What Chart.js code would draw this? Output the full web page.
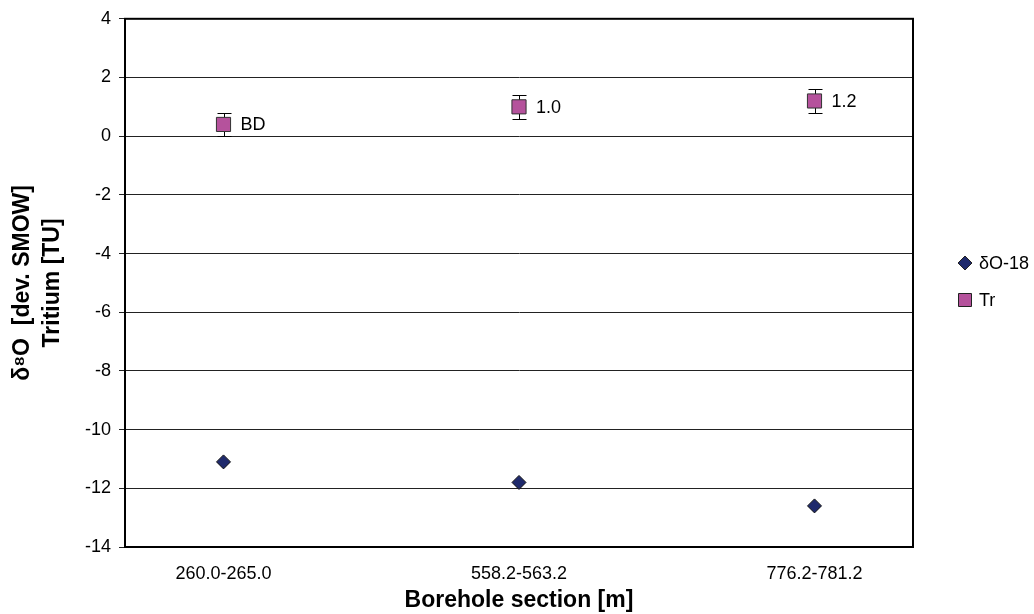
<!DOCTYPE html>
<html>
<head>
<meta charset="utf-8">
<script src="https://cdn.jsdelivr.net/npm/chart.js@4.4.1/dist/chart.umd.min.js"></script>
<style>
  html, body { margin: 0; padding: 0; background: #fff; }
</style>
</head>
<body>
<canvas id="myChart" width="1034" height="614"></canvas>
<script>
// borehole sections (x categories)
const sections = ['260.0-265.0', '558.2-563.2', '776.2-781.2'];
// delta O-18 values [dev. SMOW]
const delta18O = [-11.1, -11.8, -12.6];
// tritium [TU], error and labels shown next to the points
const tritium = [0.4, 1.0, 1.2];
const tritiumErr = [0.4, 0.4, 0.4];
const tritiumLabels = ['BD', '1.0', '1.2'];

const navy = '#1F2A6C';
const pink = '#B5529C';

Chart.defaults.font.family = "'Liberation Sans', Arial, sans-serif";
Chart.defaults.color = '#000';

const ctx = document.getElementById('myChart');

const toPoints = (vals) => vals.map((v, i) => ({ x: i + 1, y: v }));

// error bars drawn under the tritium squares
const errorBars = {
  id: 'errorBars',
  beforeDatasetsDraw(chart) {
    const c = chart.ctx;
    const xs = chart.scales.x, ys = chart.scales.y;
    c.save();
    c.strokeStyle = '#000';
    c.lineWidth = 1;
    tritium.forEach((v, i) => {
      const x = Math.round(xs.getPixelForValue(i + 1)) + 0.5;
      const top = Math.round(ys.getPixelForValue(v + tritiumErr[i])) + 0.5;
      const bot = Math.round(ys.getPixelForValue(v - tritiumErr[i])) + 0.5;
      c.beginPath();
      c.moveTo(x, top); c.lineTo(x, bot);
      c.moveTo(x - 7, top); c.lineTo(x + 7, top);
      c.moveTo(x - 7, bot); c.lineTo(x + 7, bot);
      c.stroke();
    });
    c.restore();
  }
};

// labels to the right of the tritium points
const pointLabels = {
  id: 'pointLabels',
  afterDatasetsDraw(chart) {
    const c = chart.ctx;
    const meta = chart.getDatasetMeta(1);
    c.save();
    c.font = "18px 'Liberation Sans', Arial, sans-serif";
    c.fillStyle = '#000';
    c.textBaseline = 'middle';
    c.textAlign = 'left';
    meta.data.forEach((pt, i) => {
      c.fillText(tritiumLabels[i], pt.x + 17, pt.y + 1);
    });
    c.restore();
  }
};

// frame around the plot area + legend on the right
const frameAndLegend = {
  id: 'frameAndLegend',
  afterDraw(chart) {
    const c = chart.ctx;
    const a = chart.chartArea;
    c.save();
    c.strokeStyle = '#000';
    c.lineWidth = 2;
    c.strokeRect(a.left, a.top, a.right - a.left, a.bottom - a.top);

    const mx = a.right + 52;
    const items = [
      { text: 'δO-18', y: 263, style: 'diamond', color: navy },
      { text: 'Tr', y: 300, style: 'square', color: pink }
    ];
    c.font = "18px 'Liberation Sans', Arial, sans-serif";
    c.textBaseline = 'middle';
    c.textAlign = 'left';
    items.forEach(it => {
      c.beginPath();
      if (it.style === 'diamond') {
        c.moveTo(mx, it.y - 7); c.lineTo(mx + 7, it.y);
        c.lineTo(mx, it.y + 7); c.lineTo(mx - 7, it.y);
        c.closePath();
      } else {
        c.rect(mx - 6.5, it.y - 6.5, 13, 13);
      }
      c.fillStyle = it.color;
      c.fill();
      c.lineWidth = 1;
      c.strokeStyle = '#222';
      c.stroke();
      c.fillStyle = '#000';
      c.fillText(it.text, mx + 14, it.y + 1);
    });
    c.restore();
  }
};

const myChart = new Chart(ctx, {
  type: 'scatter',
  data: {
    datasets: [
      {
        label: 'δO-18',
        data: toPoints(delta18O),
        pointStyle: 'rectRot',
        pointRadius: 7,
        backgroundColor: navy,
        borderColor: '#111',
        borderWidth: 1
      },
      {
        label: 'Tr',
        data: toPoints(tritium),
        pointStyle: 'rect',
        pointRadius: 10,
        backgroundColor: pink,
        borderColor: '#333',
        borderWidth: 1
      }
    ]
  },
  options: {
    responsive: false,
    animation: false,
    layout: { padding: { top: 16, right: 121, bottom: 0, left: 0 } },
    plugins: {
      legend: { display: false },
      tooltip: { enabled: false }
    },
    scales: {
      x: {
        type: 'linear',
        min: 2 / 3,
        max: 10 / 3,
        afterBuildTicks: (s) => { s.ticks = sections.map((_, i) => ({ value: i + 1 })); },
        afterFit: (s) => { s.height = 67; },
        ticks: {
          autoSkip: false,
          maxRotation: 0,
          padding: 8,
          font: { size: 18 },
          callback: (v) => sections[Math.round(v) - 1]
        },
        grid: { display: false },
        border: { display: true, color: '#000', width: 2 },
        title: {
          display: true,
          text: 'Borehole section [m]',
          font: { size: 23, weight: 'bold' },
          padding: { top: 2, bottom: 0 }
        }
      },
      y: {
        min: -14,
        max: 4,
        afterFit: (s) => { s.width = 125; },
        ticks: { stepSize: 2, padding: 8, font: { size: 18 } },
        grid: { color: '#222', lineWidth: 1, tickLength: 6 },
        border: { display: true, color: '#000', width: 2 },
        title: {
          display: true,
          text: ['δ⁸O  [dev. SMOW]', 'Tritium [TU]'],
          font: { size: 23, weight: 'bold', lineHeight: 1.3 },
          padding: { top: 8, bottom: 0 }
        }
      }
    }
  },
  plugins: [errorBars, pointLabels, frameAndLegend]
});
</script>
</body>
</html>
